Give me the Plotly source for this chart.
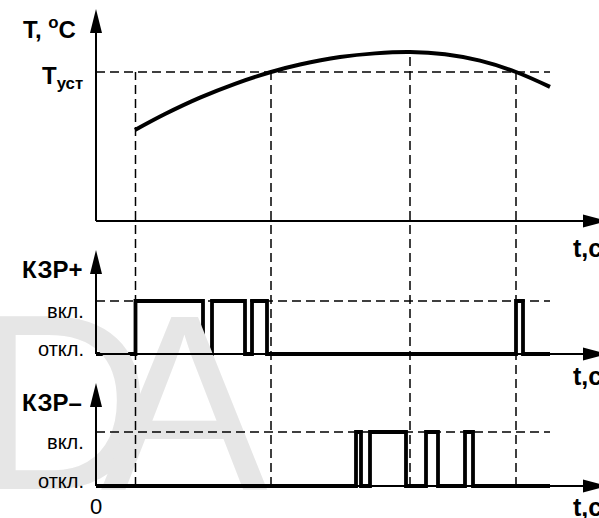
import plotly.graph_objects as go

W, H = 599, 518

# temperature curve, t in c, T in relative units (T_set = 100)
curve_t = [39, 69, 104, 139, 175, 204, 244, 279, 314, 349, 384, 420, 454]
curve_T = [61.1, 71.8, 82.8, 92.1, 100, 105.0, 110.0, 112.5, 113.4, 111.9, 107.6, 100, 90.0]
T_set = 100

# relay outputs: 0 = откл., 1 = вкл.
kzr_plus_t = [0, 39.5, 107, 116, 149, 156, 171, 420, 427, 454]
kzr_plus_s = [0, 1, 0, 1, 0, 1, 0, 1, 0, 0]
kzr_minus_t = [0, 260, 265, 274, 310, 330, 342, 369, 377, 454]
kzr_minus_s = [0, 1, 0, 1, 0, 1, 0, 1, 0, 0]

# moments marked with vertical guides and the level they start from
event_t = [39.5, 175, 314, 420]
event_T = [T_set, T_set, 113.4, T_set]
t_end = 454

FONT = "Liberation Sans, Arial, sans-serif"


def axis_range(p_bot, p_top, p_a, v_a, p_b, v_b):
    k = (v_b - v_a) / (p_b - p_a)
    return [v_a + (p_bot - p_a) * k, v_a + (p_top - p_a) * k]


x_rng = [-96, W - 96]
panels = {
    "y": dict(dom=[1 - 240 / H, 1], rng=axis_range(240, 0, 221, 0, 72, T_set)),
    "y2": dict(dom=[1 - 370 / H, 1 - 240 / H], rng=axis_range(370, 240, 354, 0, 301, 1)),
    "y3": dict(dom=[0, 1 - 370 / H], rng=axis_range(518, 370, 486, 0, 432, 1)),
}


def to_paper(v, ax):
    d, r = panels[ax]["dom"], panels[ax]["rng"]
    return d[0] + (v - r[0]) / (r[1] - r[0]) * (d[1] - d[0])


def xpx(t):
    return (t - x_rng[0]) / (x_rng[1] - x_rng[0]) * W


def ypx(v, ax):
    return (1 - to_paper(v, ax)) * H


def P(px, py):
    return px / W, 1 - py / H


fig = go.Figure()

# faint watermark behind everything
fig.add_trace(go.Scatter(
    x=[-34, 88], y=[1.11, 1.11], yaxis="y3", mode="text",
    text=["D", "A"],
    textfont=dict(size=250, color="#e6e6e6", family=FONT),
    cliponaxis=False, hoverinfo="skip", showlegend=False))

fig.add_trace(go.Scatter(
    x=curve_t, y=curve_T, mode="lines", line=dict(color="black", width=4, shape="spline"),
    cliponaxis=False, showlegend=False))
fig.add_trace(go.Scatter(
    x=kzr_plus_t, y=kzr_plus_s, yaxis="y2", mode="lines",
    line=dict(color="black", width=3.8, shape="hv"), cliponaxis=False, showlegend=False))
fig.add_trace(go.Scatter(
    x=kzr_minus_t, y=kzr_minus_s, yaxis="y3", mode="lines",
    line=dict(color="black", width=3.8, shape="hv"), cliponaxis=False, showlegend=False))

shapes = []
dash = dict(color="black", width=1.5, dash="9px,5px")

# horizontal guides: T_set and "вкл." levels
for ax, lvl in [("y", T_set), ("y2", 1), ("y3", 1)]:
    shapes.append(dict(type="line", xref="x", yref=ax, x0=0, x1=t_end, y0=lvl, y1=lvl, line=dash))

# vertical guides running through all panels
for t, T in zip(event_t, event_T):
    shapes.append(dict(type="line", xref="x", yref="paper", x0=t, x1=t,
                       y0=to_paper(0, "y3"), y1=to_paper(T, "y"), line=dash))

# axes with arrow heads
ax_x = xpx(0)
tips = {"y": 9, "y2": 250, "y3": 383}
for ax in ["y", "y2", "y3"]:
    y0 = ypx(0, ax)
    shapes.append(dict(type="line", xref="paper", yref="paper",
                       x0=P(ax_x, y0)[0], y0=P(ax_x, y0)[1], x1=P(585, y0)[0], y1=P(585, y0)[1],
                       line=dict(color="black", width=2)))
    shapes.append(dict(type="line", xref="paper", yref="paper",
                       x0=P(ax_x, y0)[0], y0=P(ax_x, y0)[1], x1=P(ax_x, tips[ax] + 20)[0],
                       y1=P(ax_x, tips[ax] + 20)[1], line=dict(color="black", width=2)))
    pts = [(607, y0), (583, y0 - 6.5), (583, y0 + 6.5)]
    shapes.append(dict(type="path", xref="paper", yref="paper", fillcolor="black",
                       line=dict(width=0),
                       path="M" + " L".join(f"{P(a, b)[0]:.5f},{P(a, b)[1]:.5f}" for a, b in pts) + " Z"))
    tp = tips[ax]
    pts = [(ax_x, tp), (ax_x - 6, tp + 24), (ax_x + 6, tp + 24)]
    shapes.append(dict(type="path", xref="paper", yref="paper", fillcolor="black",
                       line=dict(width=0),
                       path="M" + " L".join(f"{P(a, b)[0]:.5f},{P(a, b)[1]:.5f}" for a, b in pts) + " Z"))

annotations = []


def label(txt, px, py, size, bold=False, xanchor="left"):
    x, y = P(px, py)
    if bold:
        txt = f"<b>{txt}</b>"
    annotations.append(dict(text=txt, x=x, y=y, xref="paper", yref="paper", showarrow=False,
                            xanchor=xanchor, yanchor="middle",
                            font=dict(family=FONT, size=size, color="black")))


label("T, <sup>o</sup>C", 21, 28, 24, bold=True)
label("T<sub>уст</sub>", 40, 77, 24, bold=True)
label("КЗР+", 20, 269, 24, bold=True)
label("КЗР–", 20, 402, 24, bold=True)
label("вкл.", 86, 311, 20, xanchor="right")
label("откл.", 86, 349, 20, xanchor="right")
label("вкл.", 86, 442, 20, xanchor="right")
label("откл.", 86, 481, 20, xanchor="right")
label("0", 96, 506, 22, xanchor="center")
for py in [248, 376, 507]:
    label("t,c", 571, py, 25, bold=True)

fig.update_layout(
    width=W, height=H,
    margin=dict(l=0, r=0, t=0, b=0),
    paper_bgcolor="white", plot_bgcolor="white",
    showlegend=False,
    xaxis=dict(range=x_rng, visible=False, domain=[0, 1]),
    yaxis=dict(range=panels["y"]["rng"], domain=panels["y"]["dom"], visible=False),
    yaxis2=dict(range=panels["y2"]["rng"], domain=panels["y2"]["dom"], visible=False, anchor="x"),
    yaxis3=dict(range=panels["y3"]["rng"], domain=panels["y3"]["dom"], visible=False, anchor="x"),
    shapes=shapes,
    annotations=annotations,
)

# page body has a default 8px margin; drop it so the figure sits at the corner
fig.write_html("out.html", config={"displayModeBar": False},
               post_script="document.body.style.margin='0px';")
